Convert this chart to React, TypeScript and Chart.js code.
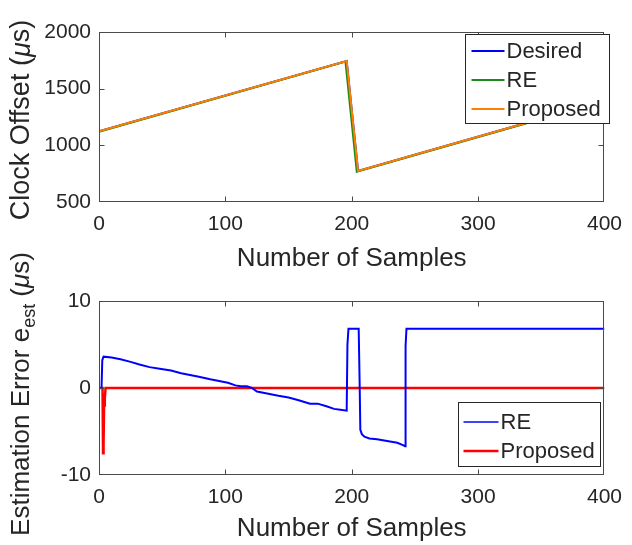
import React, { useEffect, useRef } from "react";
import { Chart, registerables } from "chart.js";

Chart.register(...registerables);

// ---------------- data ----------------
const sampleTicks = [0, 100, 200, 300, 400];
const offsetTicks = [500, 1000, 1500, 2000];
const errorTicks = [-10, 0, 10];

// top panel: clock offset (µs)
const desiredSamples = [0, 196, 205, 400];
const desiredOffset = [1124, 1744, 774, 1396];
const reSamples = [0, 195, 204, 400];
const reOffset = [1120, 1740, 767, 1390];
const proposedSamples = [0, 196, 205, 400];
const proposedOffset = [1124, 1744, 774, 1396];

// bottom panel: estimation error (µs)
const reErrSamples = [
  2, 2.6, 3.6, 10, 17, 25, 32, 40, 48, 57, 65, 72, 79, 88, 95, 102, 108, 112, 117,
  121, 125, 132, 142, 150, 158, 167, 173, 180, 186, 191, 196, 196.6, 197.4, 205.5,
  206.2, 206.8, 208, 210, 214, 220, 228, 236, 241, 242.2, 242.6, 243.3, 400,
];
const reErrValues = [
  0, 3.2, 3.6, 3.5, 3.3, 3.0, 2.7, 2.4, 2.2, 2.0, 1.7, 1.5, 1.3, 1.0, 0.8, 0.6, 0.3, 0.2, 0.2,
  0.0, -0.4, -0.6, -0.9, -1.1, -1.4, -1.8, -1.8, -2.1, -2.4, -2.5, -2.6, 5.0, 6.8, 6.8,
  1.0, -4.8, -5.3, -5.6, -5.8, -5.9, -6.1, -6.3, -6.6, -6.7, 4.8, 6.8, 6.8,
];
const propErrSamples = [0, 2.8, 3.2, 3.6, 4.0, 4.6, 5.2, 400];
const propErrValues = [0, 0, -7.5, -6.5, -2.0, -1.2, 0, 0];

// ---------------- styling helpers ----------------
const FONT = "'Liberation Sans', Arial, Helvetica, sans-serif";
const TEXT = "#262626";

type Part = { text: string; italic?: boolean; sub?: boolean };

const pts = (xs: number[], ys: number[]) => xs.map((x, i) => ({ x, y: ys[i] }));

function drawRotatedTitle(ctx: CanvasRenderingContext2D, parts: Part[], cx: number, cy: number, size: number) {
  ctx.save();
  ctx.translate(cx, cy);
  ctx.rotate(-Math.PI / 2);
  const fontFor = (p: Part) => `${p.italic ? "italic " : ""}${p.sub ? Math.round(size * 0.7) : size}px ${FONT}`;
  let total = 0;
  const widths = parts.map((p) => {
    ctx.font = fontFor(p);
    const w = ctx.measureText(p.text).width;
    total += w;
    return w;
  });
  let x = -total / 2;
  ctx.textBaseline = "middle";
  ctx.textAlign = "left";
  ctx.fillStyle = TEXT;
  parts.forEach((p, i) => {
    ctx.font = fontFor(p);
    ctx.fillText(p.text, x, p.sub ? size * 0.32 : 0);
    x += widths[i];
  });
  ctx.restore();
}

const matlabAxes = {
  id: "matlabAxes",
  afterDatasetsDraw(chart: any, _args: any, opts: any) {
    const { ctx, chartArea: a, scales } = chart;
    ctx.save();
    const L = Math.round(a.left) + 0.5;
    const R = Math.round(a.right) - 0.5;
    const T = Math.round(a.top) + 0.5;
    const B = Math.round(a.bottom) - 0.5;
    ctx.strokeStyle = "#4a4a4a";
    ctx.lineWidth = 1;
    ctx.strokeRect(L, T, R - L, B - T);
    const tl = 5;
    ctx.beginPath();
    scales.x.ticks.forEach((t: any) => {
      const px = Math.round(scales.x.getPixelForValue(t.value)) + 0.5;
      if (px <= L + 1 || px >= R - 1) return;
      ctx.moveTo(px, B);
      ctx.lineTo(px, B - tl);
      ctx.moveTo(px, T);
      ctx.lineTo(px, T + tl);
    });
    scales.y.ticks.forEach((t: any) => {
      const py = Math.round(scales.y.getPixelForValue(t.value)) + 0.5;
      if (py <= T + 1 || py >= B - 1) return;
      ctx.moveTo(L, py);
      ctx.lineTo(L + tl, py);
      ctx.moveTo(R, py);
      ctx.lineTo(R - tl, py);
    });
    ctx.stroke();

    // legend box
    const lg = opts.legend;
    const x0 = Math.round(a.left + lg.left) + 0.5;
    const y0 = Math.round(a.top + lg.top) + 0.5;
    ctx.fillStyle = "#ffffff";
    ctx.fillRect(x0, y0, lg.width, lg.height);
    ctx.strokeStyle = TEXT;
    ctx.lineWidth = 1;
    ctx.strokeRect(x0, y0, lg.width, lg.height);
    ctx.font = `${lg.fontSize}px ${FONT}`;
    ctx.textBaseline = "middle";
    ctx.textAlign = "left";
    chart.data.datasets.forEach((ds: any, i: number) => {
      const ry = Math.round(y0 + lg.firstRow + i * lg.rowGap);
      ctx.beginPath();
      ctx.strokeStyle = ds.borderColor;
      ctx.lineWidth = lg.lineWidths[i];
      ctx.moveTo(x0 + lg.lineStart, ry);
      ctx.lineTo(x0 + lg.lineEnd, ry);
      ctx.stroke();
      ctx.fillStyle = TEXT;
      ctx.fillText(ds.label, x0 + lg.textStart, ry + 1);
    });

    // y-axis title
    drawRotatedTitle(ctx, opts.yTitle, opts.yTitleX, (a.top + a.bottom) / 2 + (opts.yTitleShift || 0), opts.yTitleSize);
    ctx.restore();
  },
};

function baseScales(yMin: number, yMax: number, yTicks: number[], xBoxHeight: number, xPad: number) {
  const tickFont = { family: FONT, size: 21 };
  return {
    x: {
      type: "linear",
      min: 0,
      max: 400,
      afterBuildTicks: (s: any) => {
        s.ticks = sampleTicks.map((v) => ({ value: v }));
      },
      afterFit: (s: any) => {
        s.height = xBoxHeight;
      },
      grid: { display: false, drawTicks: false },
      border: { display: false },
      ticks: {
        font: tickFont,
        color: TEXT,
        padding: xPad,
        maxRotation: 0,
        autoSkip: false,
        callback: (v: any) => String(v),
      },
      title: {
        display: true,
        text: "Number of Samples",
        font: { family: FONT, size: 26 },
        color: TEXT,
        padding: { top: 0, bottom: 0 },
      },
    },
    y: {
      type: "linear",
      min: yMin,
      max: yMax,
      afterBuildTicks: (s: any) => {
        s.ticks = yTicks.map((v) => ({ value: v }));
      },
      afterFit: (s: any) => {
        s.width = 99;
      },
      grid: { display: false, drawTicks: false },
      border: { display: false },
      ticks: { font: tickFont, color: TEXT, padding: 8, autoSkip: false, callback: (v: any) => String(v) },
    },
  };
}

function topConfig(): any {
  return {
    type: "line",
    data: {
      datasets: [
        { label: "Desired", data: pts(desiredSamples, desiredOffset), borderColor: "#0000ff", borderWidth: 2, order: 2 },
        { label: "RE", data: pts(reSamples, reOffset), borderColor: "#1b8a1b", borderWidth: 2, order: 1 },
        { label: "Proposed", data: pts(proposedSamples, proposedOffset), borderColor: "#ff8000", borderWidth: 2, order: 0 },
      ],
    },
    options: {
      responsive: false,
      animation: false,
      events: [],
      layout: { padding: { left: 0, right: 20, top: 32, bottom: 0 } },
      elements: { point: { radius: 0 }, line: { tension: 0 } },
      plugins: {
        legend: { display: false },
        tooltip: { enabled: false },
        matlabAxes: {
          legend: {
            left: 366, top: 2, width: 144, height: 89, firstRow: 16, rowGap: 29,
            lineStart: 6, lineEnd: 39, textStart: 41, fontSize: 22, lineWidths: [2, 2, 2],
          },
          yTitle: [{ text: "Clock Offset (" }, { text: "μ", italic: true }, { text: "s)" }],
          yTitleX: 22,
          yTitleSize: 27,
          yTitleShift: 3,
        },
      },
      scales: baseScales(500, 2000, offsetTicks, 72, 10),
    },
    plugins: [matlabAxes],
  };
}

function bottomConfig(): any {
  return {
    type: "line",
    data: {
      datasets: [
        { label: "RE", data: pts(reErrSamples, reErrValues), borderColor: "#0000ff", borderWidth: 2, order: 0 },
        { label: "Proposed", data: pts(propErrSamples, propErrValues), borderColor: "#ff0000", borderWidth: 2.5, order: 1 },
      ],
    },
    options: {
      responsive: false,
      animation: false,
      events: [],
      layout: { padding: { left: 0, right: 20, top: 79, bottom: 0 } },
      elements: { point: { radius: 0 }, line: { tension: 0 } },
      plugins: {
        legend: { display: false },
        tooltip: { enabled: false },
        matlabAxes: {
          legend: {
            left: 359, top: 101, width: 142, height: 64, firstRow: 19, rowGap: 29,
            lineStart: 5, lineEnd: 40, textStart: 42, fontSize: 22, lineWidths: [1.5, 2.5],
          },
          yTitle: [
            { text: "Estimation Error e" },
            { text: "est", sub: true },
            { text: " (" },
            { text: "μ", italic: true },
            { text: "s)" },
          ],
          yTitleX: 22,
          yTitleSize: 26,
          yTitleShift: 6,
        },
      },
      scales: baseScales(-10, 10, errorTicks, 69, 10),
    },
    plugins: [matlabAxes],
  };
}

function ChartCanvas({ build, width, height, top }: { build: () => any; width: number; height: number; top: number }) {
  const ref = useRef<HTMLCanvasElement | null>(null);
  useEffect(() => {
    if (!ref.current) return;
    const chart = new Chart(ref.current, build());
    return () => chart.destroy();
  }, []);
  return (
    <canvas
      ref={ref}
      width={width}
      height={height}
      style={{ position: "absolute", left: 0, top, width, height, display: "block" }}
    />
  );
}

export default function App() {
  return (
    <div style={{ position: "fixed", left: 0, top: 0, width: 632, height: 545, background: "#ffffff", overflow: "hidden" }}>
      <ChartCanvas build={topConfig} width={632} height={274} top={0} />
      <ChartCanvas build={bottomConfig} width={632} height={322} top={222} />
    </div>
  );
}
